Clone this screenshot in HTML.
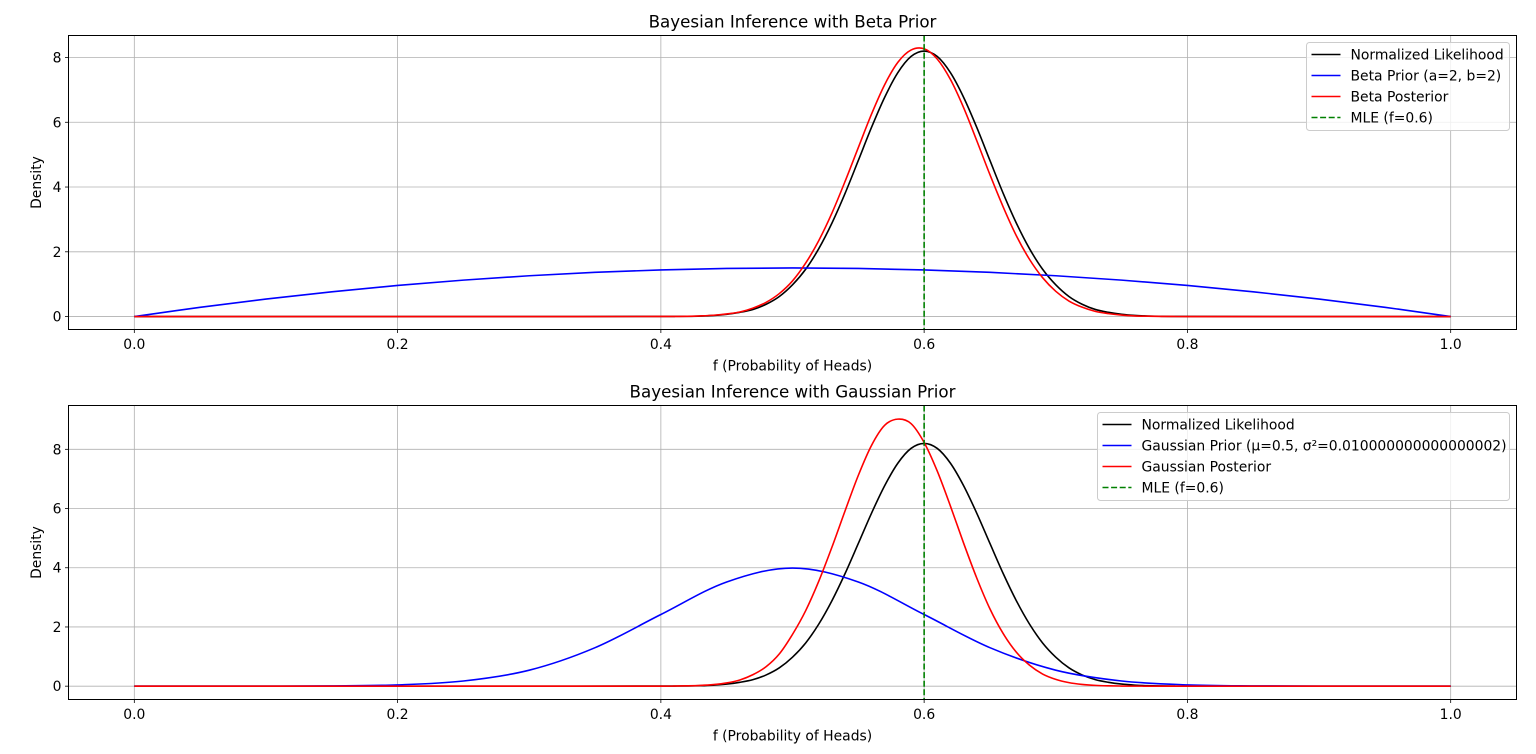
<!DOCTYPE html>
<html><head><meta charset="utf-8"><style>
html,body{margin:0;padding:0;background:#fff;}
svg{display:block;font-family:"DejaVu Sans","Liberation Sans",sans-serif;}
</style></head><body>
<svg id="chart" width="1536" height="754" viewBox="0 0 1536 754"></svg>
<script>
// ---- data ----
const fineX = [0,0.1,0.2,0.3,0.40,0.41,0.42,0.43,0.44,0.45,0.46,0.47,0.48,0.49,0.50,0.51,0.52,0.53,0.54,0.55,0.56,0.57,0.58,0.59,0.60,0.61,0.62,0.63,0.64,0.65,0.66,0.67,0.68,0.69,0.70,0.71,0.72,0.73,0.74,0.75,0.76,0.77,0.78,0.79,0.80,0.9,1.0];
const likelihood = [0,0,0,0,0.003,0.005,0.008,0.016,0.035,0.07,0.13,0.22,0.38,0.62,0.98,1.46,2.10,2.89,3.81,4.82,5.84,6.77,7.53,8.03,8.2,8.03,7.53,6.77,5.84,4.82,3.81,2.89,2.10,1.46,0.98,0.62,0.38,0.22,0.13,0.07,0.035,0.016,0.008,0.004,0.002,0,0];
const betaPosterior = [0,0,0,0,0.002,0.004,0.008,0.02,0.04,0.08,0.14,0.26,0.44,0.71,1.10,1.65,2.35,3.20,4.18,5.22,6.25,7.16,7.85,8.23,8.27,7.95,7.32,6.45,5.43,4.38,3.39,2.50,1.77,1.20,0.78,0.48,0.29,0.16,0.09,0.045,0.02,0.01,0.004,0.002,0.001,0,0];
const gaussPosterior = [0,0,0,0,0.001,0.004,0.011,0.025,0.055,0.11,0.21,0.39,0.66,1.09,1.75,2.55,3.55,4.70,5.93,7.12,8.13,8.81,9.02,8.87,8.23,7.26,6.08,4.83,3.65,2.61,1.78,1.15,0.71,0.41,0.23,0.12,0.06,0.027,0.012,0.005,0.002,0.001,0,0,0,0,0];
const priorX = [0,0.05,0.1,0.15,0.2,0.25,0.3,0.35,0.4,0.45,0.5,0.55,0.6,0.65,0.7,0.75,0.8,0.85,0.9,0.95,1.0];
const betaPrior = [0,0.285,0.54,0.765,0.96,1.125,1.26,1.365,1.44,1.485,1.5,1.485,1.44,1.365,1.26,1.125,0.96,0.765,0.54,0.285,0];
const gaussPrior = [0,0,0.001,0.009,0.044,0.175,0.54,1.30,2.42,3.52,3.99,3.52,2.42,1.30,0.54,0.175,0.044,0.009,0.001,0,0];
const xTicks = [0.0,0.2,0.4,0.6,0.8,1.0];
const xTickLabels = ["0.0","0.2","0.4","0.6","0.8","1.0"];
const yTicks = [0,2,4,6,8];
const mle = 0.6;

const NS="http://www.w3.org/2000/svg";
const svg=document.getElementById('chart');
function el(tag,attrs,parent,text){const e=document.createElementNS(NS,tag);for(const k in attrs)e.setAttribute(k,attrs[k]);if(text!==undefined)e.textContent=text;(parent||svg).appendChild(e);return e;}
const FS=13.9;
function panel(cfg){
  const g=el('g',{},svg);
  
  
  const L=68.5,R=1516.5,T=cfg.top,B=cfg.bottom;
  const xs=v=>L+(v-(-0.05))/(1.1)*(R-L);
  const ys=v=>B-(v-cfg.ymin)/(cfg.ymax-cfg.ymin)*(B-T);
  xTicks.forEach((t,i)=>{
    const ln=el('line',{x1:xs(t),x2:xs(t),y1:T,y2:B,stroke:'#b0b0b0','stroke-width':0.8},g);
    
    
    el('line',{x1:xs(t),x2:xs(t),y1:B,y2:B+3.5,stroke:'#000','stroke-width':0.8},g);
    const tx=el('text',{x:xs(t),y:B+19.5,'text-anchor':'middle','font-size':FS,fill:'#000'},g,xTickLabels[i]);
    
    
  });
  yTicks.forEach(t=>{
    const ln=el('line',{x1:L,x2:R,y1:ys(t),y2:ys(t),stroke:'#b0b0b0','stroke-width':0.8},g);
    
    
    el('line',{x1:L-3.5,x2:L,y1:ys(t),y2:ys(t),stroke:'#000','stroke-width':0.8},g);
    const tx=el('text',{x:L-7,y:ys(t)+5,'text-anchor':'end','font-size':FS,fill:'#000'},g,String(t));
    
    
  });
  function path(X,Y,color,name){
    const P=X.map((x,i)=>[xs(x),ys(Y[i])]);
    let d='M'+P[0][0]+','+P[0][1];
    for(let i=0;i<P.length-1;i++){
      const p0=P[Math.max(i-1,0)],p1=P[i],p2=P[i+1],p3=P[Math.min(i+2,P.length-1)];
      const c1=[p1[0]+(p2[0]-p0[0])/6,Math.min(ys(0),p1[1]+(p2[1]-p0[1])/6)];
      const c2=[p2[0]-(p3[0]-p1[0])/6,Math.min(ys(0),p2[1]-(p3[1]-p1[1])/6)];
      d+=' C'+c1[0]+','+c1[1]+' '+c2[0]+','+c2[1]+' '+p2[0]+','+p2[1];
    }
    const p=el('path',{d:d,fill:'none',stroke:color,'stroke-width':1.6},g);
    
    
  }
  path(fineX,likelihood,'#000','likelihood-line');
  path(priorX,cfg.prior,'#0000ff','prior-line');
  path(fineX,cfg.post,'#ff0000','posterior-line');
  const m=el('line',{x1:xs(mle),x2:xs(mle),y1:T,y2:B,stroke:'#008000','stroke-width':1.6,'stroke-dasharray':'6,2.6'},g);
  
  
  const fr=el('rect',{x:L,y:T,width:R-L,height:B-T,fill:'none',stroke:'#000','stroke-width':1},g);
  
  
  const ti=el('text',{x:(L+R)/2,y:T-8,'text-anchor':'middle','font-size':16.7,fill:'#000'},g,cfg.title);
  
  
  const xl=el('text',{x:(L+R)/2,y:B+41,'text-anchor':'middle','font-size':FS,fill:'#000'},g,'f (Probability of Heads)');
  
  
  const cy=(T+B)/2;
  const yl=el('text',{x:41,y:cy,'text-anchor':'middle','font-size':FS,fill:'#000',transform:'rotate(-90 41 '+cy+')'},g,'Density');
  
  
  const lg=el('g',{},g);
  
  
  el('rect',{x:cfg.lx,y:T+7,width:1509.5-cfg.lx,height:88,rx:3,fill:'#fff','fill-opacity':0.8,stroke:'#cccccc','stroke-width':1},lg);
  const items=[['Normalized Likelihood','#000',null],[cfg.priorLabel,'#0000ff',null],[cfg.postLabel,'#ff0000',null],['MLE (f=0.6)','#008000','6,2.6']];
  items.forEach((it,i)=>{
    const y=T+19+i*21;
    const e=el('g',{},lg);
    
    
    const a={x1:cfg.lx+5,x2:cfg.lx+34,y1:y,y2:y,stroke:it[1],'stroke-width':1.6};
    if(it[2])a['stroke-dasharray']=it[2];
    el('line',a,e);
    el('text',{x:cfg.lx+44,y:y+5,'font-size':FS,fill:'#000'},e,it[0]);
  });
}
panel({name:'beta-prior-panel',top:35.5,bottom:329.5,ymin:-0.4,ymax:8.68,prior:betaPrior,post:betaPosterior,title:'Bayesian Inference with Beta Prior',priorLabel:'Beta Prior (a=2, b=2)',postLabel:'Beta Posterior',lx:1306.5});
panel({name:'gaussian-prior-panel',top:405.5,bottom:699.5,ymin:-0.45,ymax:9.48,prior:gaussPrior,post:gaussPosterior,title:'Bayesian Inference with Gaussian Prior',priorLabel:'Gaussian Prior (μ=0.5, σ²=0.010000000000000002)',postLabel:'Gaussian Posterior',lx:1097.5});
</script>
</body></html>
